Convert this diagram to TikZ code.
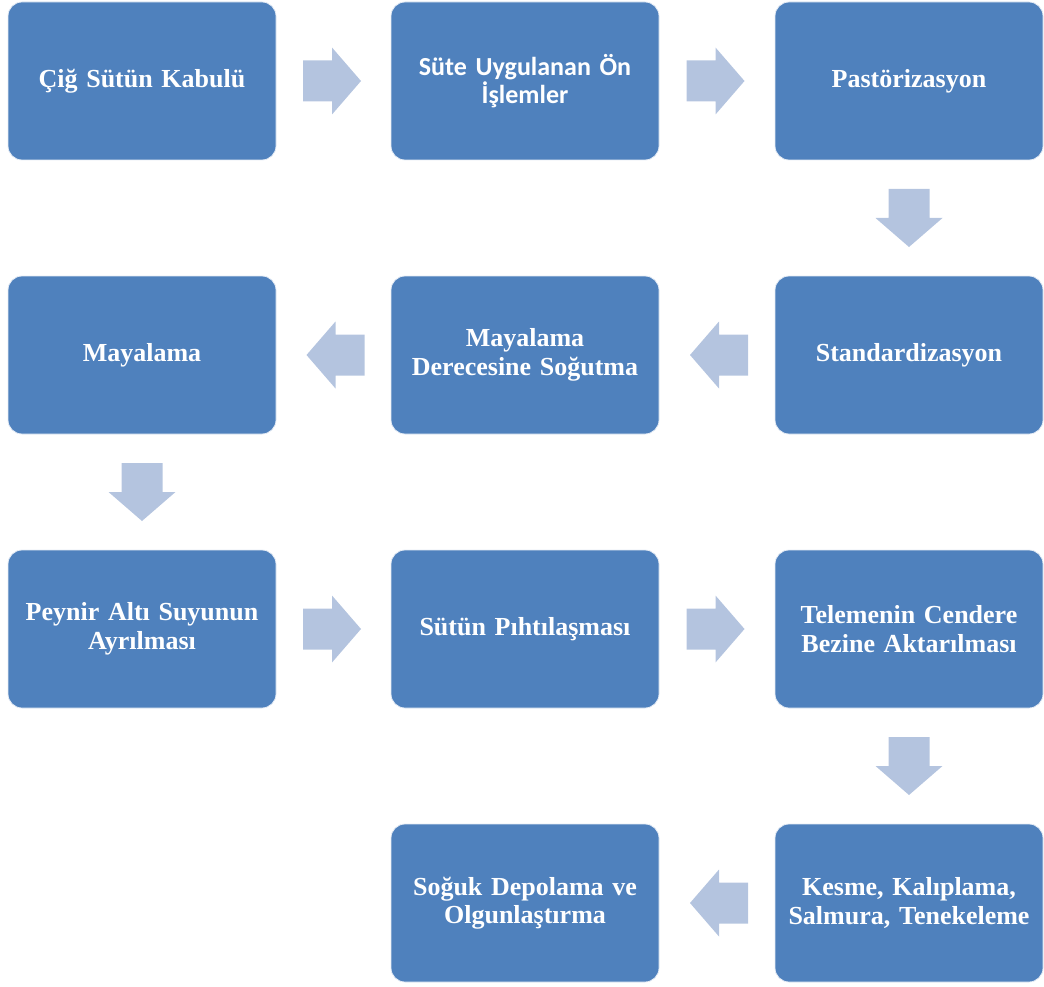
\documentclass[tikz,border=0pt]{standalone}
\usepackage{fontspec}
\setmainfont{Liberation Serif}
\newfontfamily\calibrifont{Carlito}
\usetikzlibrary{calc}
\definecolor{boxblue}{HTML}{4F81BD}
\definecolor{arrowblue}{HTML}{B4C4DF}
\tikzset{
  stepbox/.style={draw=white!85!boxblue, line width=0.8pt, fill=boxblue, rounded corners=14pt,
    minimum width=268pt, minimum height=158pt, text width=260pt, align=center,
    text=white, font=\fontsize{26pt}{28.5pt}\selectfont\bfseries, inner sep=0pt},
  pics/blockarrow/.style={code={
    \fill[arrowblue] (-29pt,-20.5pt) -- (0pt,-20.5pt) -- (0pt,-33.5pt) -- (29pt,0pt)
      -- (0pt,33.5pt) -- (0pt,20.5pt) -- (-29pt,20.5pt) -- cycle;}}
}
\begin{document}
\begin{tikzpicture}[x=1pt,y=-1pt]
\useasboundingbox (0,0) rectangle (1044,987);
% row 1
\node[stepbox] (a1) at (142,81) {Çiğ Sütün Kabulü};
\node[stepbox] (a2) at (525,81) {{\calibrifont\bfseries Süte Uygulanan Ön\\İşlemler}};
\node[stepbox] (a3) at (909,81) {Pastörizasyon};
% row 2
\node[stepbox] (b3) at (909,355) {Standardizasyon};
\node[stepbox] (b2) at (525,355) {Mayalama\\Derecesine Soğutma};
\node[stepbox] (b1) at (142,355) {Mayalama};
% row 3
\node[stepbox] (c1) at (142,629) {Peynir Altı Suyunun\\Ayrılması};
\node[stepbox] (c2) at (525,629) {Sütün Pıhtılaşması};
\node[stepbox] (c3) at (909,629) {Telemenin Cendere\\Bezine Aktarılması};
% row 4
\node[stepbox] (d3) at (909,903) {Kesme, Kalıplama,\\Salmura, Tenekeleme};
\node[stepbox] (d2) at (525,903) {Soğuk Depolama ve\\Olgunlaştırma};
% arrows
\pic at ($(a1.east)!0.5!(a2.west)+(-1.5,0)$) {blockarrow};
\pic at ($(a2.east)!0.5!(a3.west)+(-1.5,0)$) {blockarrow};
\pic[rotate=-90] at ($(a3.south)!0.5!(b3.north)$) {blockarrow};
\pic[rotate=180] at ($(b3.west)!0.5!(b2.east)+(2,0)$) {blockarrow};
\pic[rotate=180] at ($(b2.west)!0.5!(b1.east)+(2,0)$) {blockarrow};
\pic[rotate=-90] at ($(b1.south)!0.5!(c1.north)$) {blockarrow};
\pic at ($(c1.east)!0.5!(c2.west)+(-1.5,0)$) {blockarrow};
\pic at ($(c2.east)!0.5!(c3.west)+(-1.5,0)$) {blockarrow};
\pic[rotate=-90] at ($(c3.south)!0.5!(d3.north)$) {blockarrow};
\pic[rotate=180] at ($(d3.west)!0.5!(d2.east)+(2,0)$) {blockarrow};
\end{tikzpicture}
\end{document}
